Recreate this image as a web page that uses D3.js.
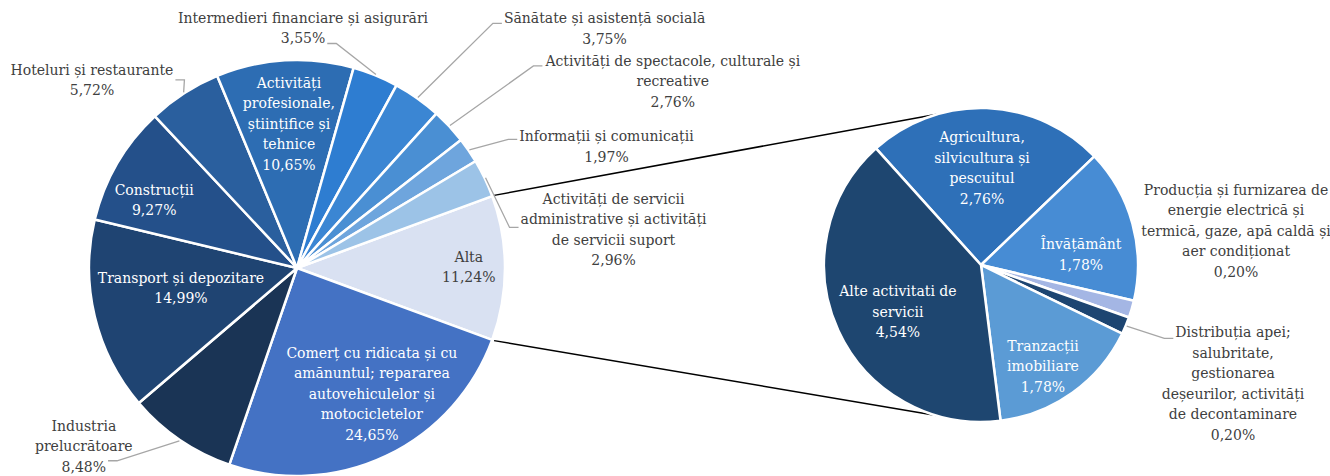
<!DOCTYPE html>
<html>
<head>
<meta charset="utf-8">
<script src="https://cdn.jsdelivr.net/npm/d3@7"></script>
<style>
  body { margin: 0; background: #fff; }
  svg { display: block; font-family: "DejaVu Serif", serif; }
</style>
</head>
<body>
<div id="chart"></div>
<script>
// main pie: sectors (Alta = the sum of the second pie)
const mainNames = [
  "Alta",
  "Comerț cu ridicata și cu\namănuntul; repararea\nautovehiculelor și\nmotocicletelor",
  "Industria\nprelucrătoare",
  "Transport și depozitare",
  "Construcții",
  "Hoteluri și restaurante",
  "Activități\nprofesionale,\nștiințifice și\ntehnice",
  "Intermedieri financiare și asigurări",
  "Sănătate și asistență socială",
  "Activități de spectacole, culturale și\nrecreative",
  "Informații și comunicații",
  "Activități de servicii\nadministrative și activități\nde servicii suport"
];
const mainValues = [11.24, 24.65, 8.48, 14.99, 9.27, 5.72, 10.65, 3.55, 3.75, 2.76, 1.97, 2.96];

// second pie: breakdown of "Alta"
const otherNames = [
  "Agricultura,\nsilvicultura și\npescuitul",
  "Învățământ",
  "Producția și furnizarea de\nenergie electrică și\ntermică, gaze, apă caldă și\naer condiționat",
  "Distribuția apei;\nsalubritate,\ngestionarea\ndeșeurilor, activități\nde decontaminare",
  "Tranzacții\nimobiliare",
  "Alte activitati de\nservicii"
];
const otherValues = [2.76, 1.78, 0.20, 0.20, 1.78, 4.54];

// colours
const mainColors = ["#D9E1F2", "#4472C4", "#1A3455", "#1F4472", "#24508A", "#2A5F9E",
                    "#2D6DB3", "#2E7DD1", "#3B86D3", "#4A8FD3", "#6EA5DD", "#9CC3E7"];
const otherColors = ["#2E70B8", "#478CD4", "#A4B6E4", "#1D4571", "#5B9BD5", "#1E4670"];

// label layout: [angle deg, radius factor, inside?, leader side, leader line, leader dy]
const mainLabelLayout = [
  [89.7, 0.826, true],
  [149.2, 0.703, true],
  [230.1, 1.336, false, "r", 2, -6],
  [260.2, 0.566, true],
  [295.4, 0.76, true],
  [312.5, 1.337, false, "r", 0, 10],
  [356.8, 0.694, true],
  [1.44, 1.153, false, "r", 1, 5],
  [52.1, 1.874, false, "l", 0, 5],
  [63.6, 2.017, false, "l", 0, 5],
  [68.6, 1.598, false, "l", 0, 3],
  [83.1, 1.533, false, "l", 1, 8]
];
const otherLabelLayout = [
  [0.6, 0.618, true],
  [84, 0.64, true],
  [82.4, 1.639, false],
  [115.2, 1.774, false, "l", 0, 6],
  [148.6, 0.757, true],
  [240.5, 0.608, true]
];

const width = 1330, height = 476;
const main = { cx: 297, cy: 268, r: 208 };
const other = { cx: 981, cy: 265, r: 157 };
const lineH = 20.5;
const rad = d => d * Math.PI / 180;
const pct = v => v.toFixed(2).replace(".", ",") + "%";
const polar = (c, a, r) => [c.cx + r * Math.sin(a), c.cy - r * Math.cos(a)];

const svg = d3.select("#chart").append("svg")
  .attr("width", width)
  .attr("height", height);

// main pie, "Alta" centred at 3 o'clock
const mainTotal = d3.sum(mainValues);
const mainStart = Math.PI / 2 - Math.PI * mainValues[0] / mainTotal;
const mainArcs = d3.pie().sort(null).value(d => d)
  .startAngle(mainStart).endAngle(mainStart + 2 * Math.PI)(mainValues);

const otherStart = rad(-42);
const otherArcs = d3.pie().sort(null).value(d => d)
  .startAngle(otherStart).endAngle(otherStart + 2 * Math.PI)(otherValues);

// connector lines
const alta = mainArcs[0];
const connectors = [
  [polar(main, alta.startAngle, main.r + 2), polar(other, rad(-15.8), other.r)],
  [polar(main, alta.endAngle, main.r + 2), polar(other, rad(196.5), other.r)]
];
svg.selectAll("line.conn")
  .data(connectors)
  .enter()
  .append("line")
  .attr("class", "conn")
  .attr("x1", d => d[0][0]).attr("y1", d => d[0][1])
  .attr("x2", d => d[1][0]).attr("y2", d => d[1][1])
  .attr("stroke", "#000")
  .attr("stroke-width", 1.5);

const drawPie = (c, arcs, names, colors, layout, darkIdx) => {
  const g = svg.append("g");
  const arc = d3.arc().innerRadius(0).outerRadius(c.r);

  g.append("g")
    .attr("transform", "translate(" + c.cx + "," + c.cy + ")")
    .selectAll("path")
    .data(arcs)
    .enter()
    .append("path")
    .attr("d", arc)
    .attr("fill", (d, i) => colors[i])
    .attr("stroke", "#fff")
    .attr("stroke-width", 2.5)
    .attr("stroke-linejoin", "round");

  arcs.forEach((d, i) => {
    const lay = layout[i];
    const [bx, by] = polar(c, rad(lay[0]), c.r * lay[1]);
    const lines = names[i].split("\n").concat([pct(d.data)]);
    const inside = lay[2];
    const fill = inside && i !== darkIdx ? "#fff" : "#404040";

    const t = g.append("text")
      .attr("text-anchor", "middle")
      .attr("font-size", 14)
      .attr("fill", fill);
    const spans = lines.map((s, k) => t.append("tspan")
      .attr("x", bx)
      .attr("y", by + (k - (lines.length - 1) / 2) * lineH)
      .attr("dy", "0.35em")
      .text(s));

    if (!inside && lay[3]) {
      const sp = spans[lay[4]].node();
      const bb = sp.getBBox();
      const ly = by + (lay[4] - (lines.length - 1) / 2) * lineH + lay[5];
      const ax = lay[3] === "l" ? bb.x - 2 : bb.x + bb.width + 2;
      const ex = lay[3] === "l" ? ax - 9 : ax + 9;
      const mid = (d.startAngle + d.endAngle) / 2;
      const p = polar(c, mid, c.r + 1);
      g.insert("polyline", "text")
        .attr("points", [[ax, ly], [ex, ly], p].map(q => q.join(",")).join(" "))
        .attr("fill", "none")
        .attr("stroke", "#A6A6A6")
        .attr("stroke-width", 1.3);
    }
  });
};

drawPie(main, mainArcs, mainNames, mainColors, mainLabelLayout, 0);
drawPie(other, otherArcs, otherNames, otherColors, otherLabelLayout, -1);
</script>
</body>
</html>
